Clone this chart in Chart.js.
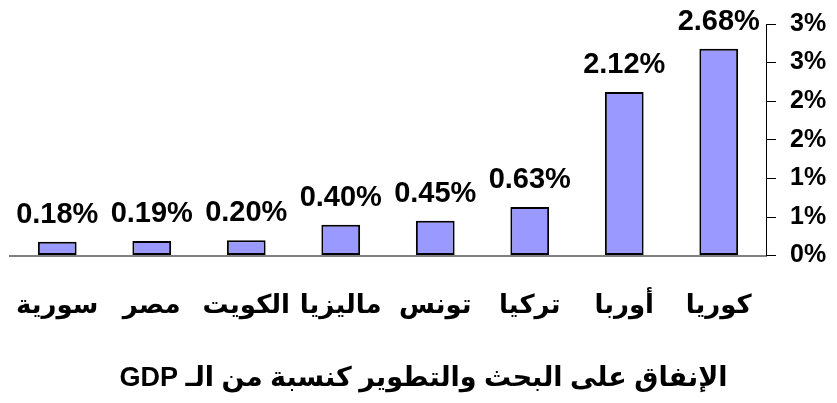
<!DOCTYPE html>
<html>
<head>
<meta charset="utf-8">
<script src="https://cdn.jsdelivr.net/npm/chart.js@4/dist/chart.umd.min.js"></script>
<style>
  html, body { margin: 0; padding: 0; background: #fff; }
  #wrap { width: 837px; height: 403px; }
</style>
</head>
<body>
<div id="wrap"><canvas id="rdChart" dir="rtl" width="837" height="403"></canvas></div>
<script>
// R&D spending as % of GDP
const countries = ['سورية', 'مصر', 'الكويت', 'ماليزيا', 'تونس', 'تركيا', 'أوربا', 'كوريا'];
const spending = [0.18, 0.19, 0.20, 0.40, 0.45, 0.63, 2.12, 2.68];
const yTickLabels = ['0%', '1%', '1%', '2%', '2%', '3%', '3%'];
const chartTitle = 'الإنفاق على البحث والتطوير كنسبة من الـ GDP';

const latinFont = "'Liberation Sans', Arial, 'DejaVu Sans', sans-serif";

// draws the value above each bar (no datalabels plugin available)
const valueLabels = {
  id: 'valueLabels',
  afterDatasetsDraw(chart) {
    const ctx = chart.ctx;
    const meta = chart.getDatasetMeta(0);
    ctx.save();
    ctx.font = 'bold 29px ' + latinFont;
    ctx.fillStyle = '#000';
    ctx.textAlign = 'center';
    ctx.textBaseline = 'alphabetic';
    meta.data.forEach((bar, i) => {
      ctx.fillText(spending[i].toFixed(2) + '%', bar.x, bar.y - 19);
    });
    ctx.restore();
  }
};

const ctx = document.getElementById('rdChart').getContext('2d');
new Chart(ctx, {
  type: 'bar',
  data: {
    labels: countries,
    datasets: [{
      data: spending,
      backgroundColor: '#9999ff',
      borderColor: '#000',
      borderWidth: 2,
      borderSkipped: false,
      barPercentage: 0.41,
      categoryPercentage: 1
    }]
  },
  options: {
    responsive: false,
    animation: false,
    layout: { padding: { left: 10, top: 24, right: 0, bottom: 0 } },
    plugins: {
      legend: { display: false },
      tooltip: { enabled: false },
      title: {
        display: true,
        position: 'bottom',
        text: chartTitle,
        color: '#000',
        font: { family: latinFont, size: 27, weight: 'bold' },
        padding: { top: 22, bottom: 8 }
      }
    },
    scales: {
      x: {
        grid: { display: false },
        border: { display: true, color: '#808080', width: 2 },
        ticks: {
          color: '#000',
          padding: 27,
          maxRotation: 0,
          font: { family: latinFont, size: 26, weight: 'bold' }
        },
        afterFit: (scale) => {
          scale.height = 85;
          // labels may overhang the edges, don't shrink the plot for them
          scale.paddingLeft = 0;
          scale.paddingRight = 0;
        }
      },
      y: {
        position: 'right',
        min: 0,
        max: 3,
        grid: { drawOnChartArea: false, drawTicks: true, tickLength: 10, color: '#000' },
        border: { display: true, color: '#000', width: 1 },
        ticks: {
          stepSize: 0.5,
          color: '#000',
          padding: 14,
          font: { family: latinFont, size: 25, weight: 'bold' },
          callback: (value, index) => yTickLabels[index]
        },
        afterFit: (scale) => {
          scale.width = 71;
          scale.paddingTop = 0;
          scale.paddingBottom = 0;
        }
      }
    }
  },
  plugins: [valueLabels]
});
</script>
</body>
</html>
